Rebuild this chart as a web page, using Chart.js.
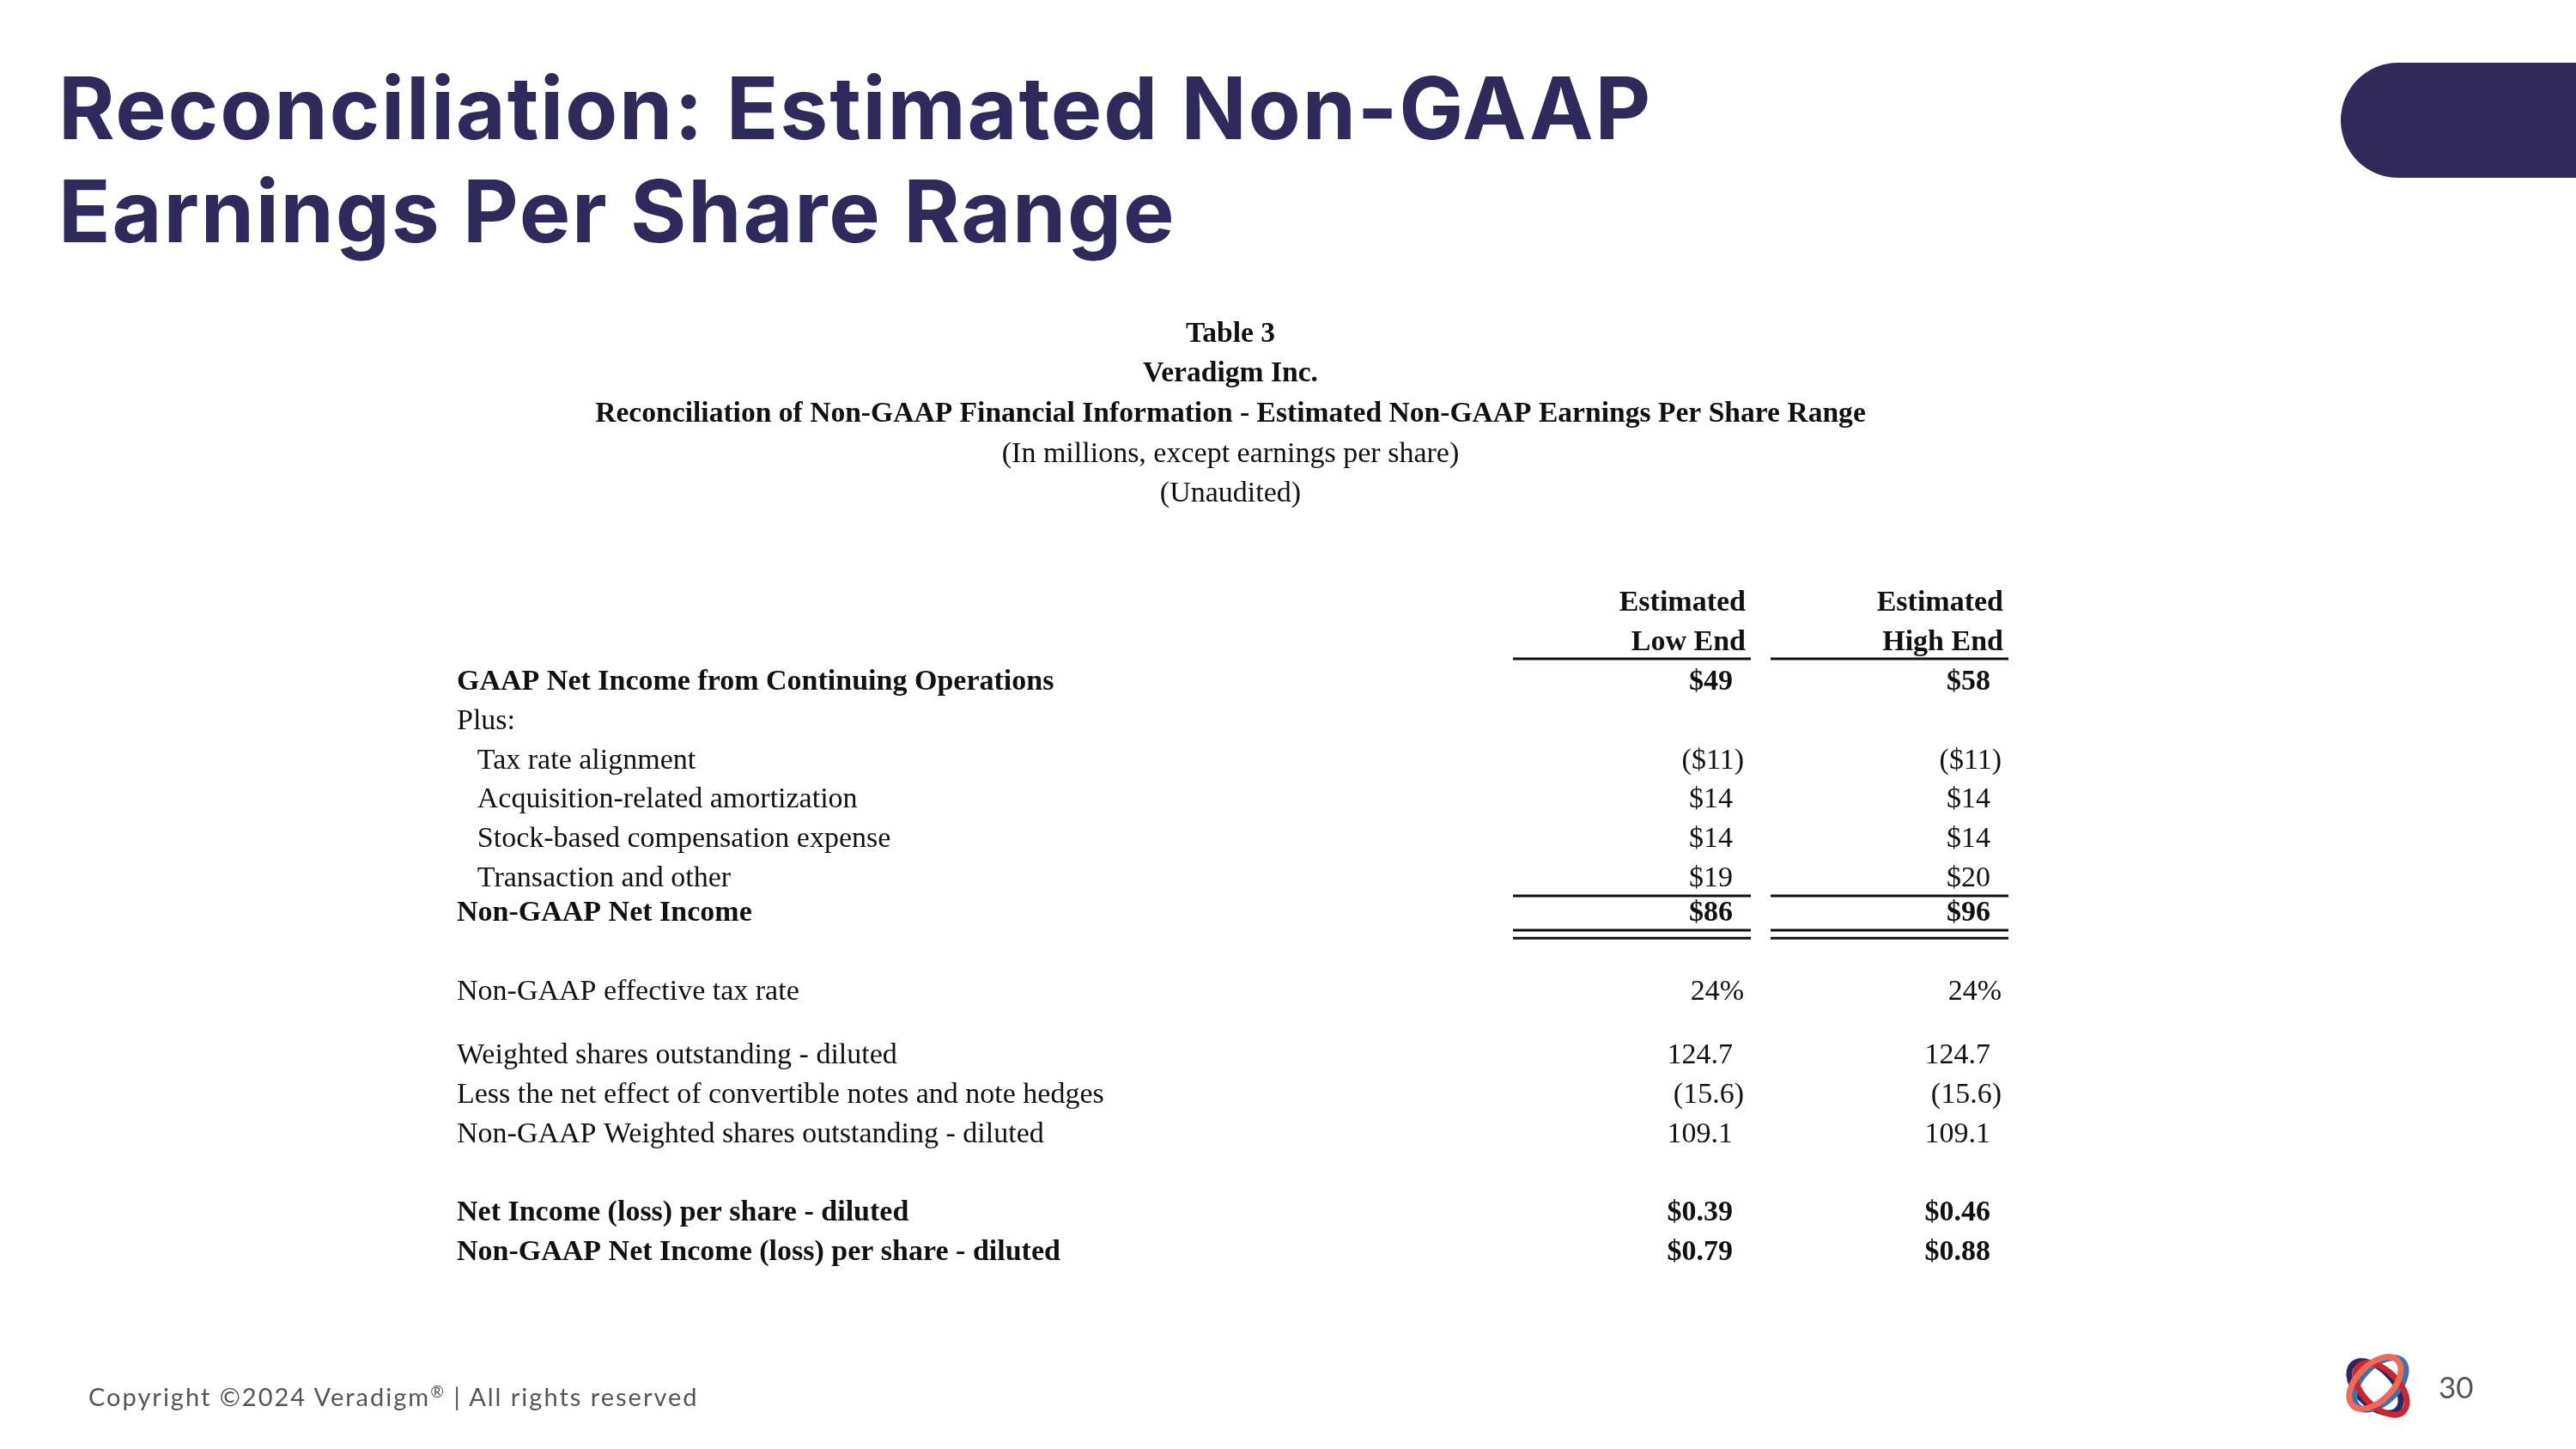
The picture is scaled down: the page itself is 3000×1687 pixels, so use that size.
<!DOCTYPE html>
<html>
<head>
<meta charset="utf-8">
<script src="https://cdn.jsdelivr.net/npm/chart.js@4/dist/chart.umd.min.js"></script>
<style>
    body { margin: 0; background: #fff; }
    .slide { position: relative; width: 3000px; height: 1687px; overflow: hidden; background: #fff; }
    .table-wrap { position: absolute; left: 0; top: 0; width: 3000px; height: 1687px; }
    .title {
        position: absolute; left: 68px; top: 66px; margin: 0;
        font-family: Inter, sans-serif; font-weight: 700; font-size: 100px;
        line-height: 120px; color: #2e2a5c; letter-spacing: 1.8px;
    }
    .pill {
        position: absolute; left: 2726px; top: 73px; width: 400px; height: 134px;
        border-radius: 67px; background: #312a5a;
    }
    .footer {
        position: absolute; left: 103px; top: 1608px;
        font-family: Lato, sans-serif; font-size: 29px; line-height: 36px;
        color: #555; letter-spacing: 2px;
    }
    .footer sup { font-size: 19px; vertical-align: 10px; line-height: 0; }
    .page-no {
        position: absolute; left: 2840px; top: 1594px;
        font-family: Lato, sans-serif; font-size: 35px; line-height: 40px; color: #555;
    }
    .logo { position: absolute; left: 2722px; top: 1568px; }
</style>
</head>
<body>
<div class="slide">
    <div class="table-wrap"><canvas id="reconTable"></canvas></div>
    <h1 class="title">Reconciliation: Estimated Non-GAAP<br>Earnings Per Share Range</h1>
    <div class="pill"></div>
    <div class="footer">Copyright ©2024 Veradigm<sup>®</sup> | All rights reserved</div>
    <div class="page-no">30</div>
    <svg class="logo" width="95" height="92" viewBox="0 0 95 92">
        <g fill="none" stroke-width="7">
            <ellipse cx="44" cy="47" rx="37" ry="21" transform="rotate(45 44 47)" stroke="#2d2566"/>
            <ellipse cx="50" cy="43" rx="37" ry="21" transform="rotate(-45 50 43)" stroke="#3f72aa"/>
            <ellipse cx="51" cy="49" rx="37" ry="21" transform="rotate(45 51 49)" stroke="#c9262f"/>
            <ellipse cx="44" cy="42" rx="37" ry="21" transform="rotate(-45 44 42)" stroke="#ee6a5b"/>
        </g>
    </svg>
</div>

<script>
// Table content
const tableTitle = ['Table 3', 'Veradigm Inc.', 'Reconciliation of Non-GAAP Financial Information - Estimated Non-GAAP Earnings Per Share Range'];
const tableSubtitle = ['(In millions, except earnings per share)', '(Unaudited)'];
const columnHead = 'Estimated';
const columns = ['Low End', 'High End'];

const rowLabels = [
    'GAAP Net Income from Continuing Operations',
    'Plus:',
    'Tax rate alignment',
    'Acquisition-related amortization',
    'Stock-based compensation expense',
    'Transaction and other',
    'Non-GAAP Net Income',
    'Non-GAAP effective tax rate',
    'Weighted shares outstanding - diluted',
    'Less the net effect of convertible notes and note hedges',
    'Non-GAAP Weighted shares outstanding - diluted',
    'Net Income (loss) per share - diluted',
    'Non-GAAP Net Income (loss) per share - diluted'
];
const lowEnd = ['$49', '', '($11)', '$14', '$14', '$19', '$86', '24%', '124.7', '(15.6)', '109.1', '$0.39', '$0.79'];
const highEnd = ['$58', '', '($11)', '$14', '$14', '$20', '$96', '24%', '124.7', '(15.6)', '109.1', '$0.46', '$0.88'];

// Layout: the y axis runs in eighth-row slots so the uneven gaps between blocks line up
const SLOT_COUNT = 133;
const HEAD_SLOT = [0, 8];
const ROW_SLOT = [16, 24, 32, 40, 48, 56, 63, 79, 92, 100, 108, 124, 132];
const RULE_SLOT = [11.3, 59.5, 66.5, 68.1];
const BOLD_ROWS = [0, 6, 11, 12];
const INDENT_ROWS = [2, 3, 4, 5];
const SERIF = "'Liberation Serif', 'Times New Roman', serif";
const FONT_SIZE = 34;
const INK = '#111';

const rowKey = rowLabels.map((label, i) => (INDENT_ROWS.includes(i) ? '  \u2009' : '') + label);
const slotLabels = Array.from({ length: SLOT_COUNT }, () => '');
const boldSlots = new Set();
rowKey.forEach((key, i) => {
    slotLabels[ROW_SLOT[i]] = key;
    if (BOLD_ROWS.includes(i)) boldSlots.add(ROW_SLOT[i]);
});

function cellFont(bold) {
    return `${bold ? 'bold ' : ''}${FONT_SIZE}px ${SERIF}`;
}

// Draws column heads, cell values and the accounting rules
const tableCells = {
    id: 'tableCells',
    afterDatasetsDraw(chart) {
        const { ctx, scales: { x, y } } = chart;
        ctx.save();
        ctx.fillStyle = INK;
        ctx.strokeStyle = INK;
        ctx.textBaseline = 'middle';
        ctx.textAlign = 'right';

        ctx.font = cellFont(true);
        columns.forEach((col, c) => {
            const cx = x.getPixelForValue(c);
            ctx.fillText(columnHead, cx + 15, y.getPixelForValue(HEAD_SLOT[0]));
            ctx.fillText(col, cx + 15, y.getPixelForValue(HEAD_SLOT[1]));
        });

        chart.data.datasets.forEach((ds, di) => {
            chart.getDatasetMeta(di).data.forEach((pt, i) => {
                const txt = ds.cells[i];
                if (!txt) return;
                ctx.font = cellFont(BOLD_ROWS.includes(i));
                const hang = /[)%]$/.test(txt) ? 13 : 0;
                ctx.fillText(txt, pt.x + hang, pt.y);
            });
        });

        // single rules under the heads and the add-backs, double rule under the total
        ctx.lineWidth = 3;
        RULE_SLOT.forEach(slot => {
            const yy = y.getPixelForValue(slot);
            columns.forEach((col, c) => {
                const cx = x.getPixelForValue(c);
                ctx.beginPath();
                ctx.moveTo(cx - 256, yy);
                ctx.lineTo(cx + 21, yy);
                ctx.stroke();
            });
        });
        ctx.restore();
    }
};

Chart.defaults.font.family = SERIF;

new Chart(document.getElementById('reconTable'), {
    type: 'line',
    data: {
        datasets: columns.map((col, c) => ({
            label: col,
            cells: c === 0 ? lowEnd : highEnd,
            data: rowKey.map(key => ({ x: col, y: key })),
            showLine: false,
            pointRadius: 0,
            pointHoverRadius: 0
        }))
    },
    options: {
        responsive: true,
        maintainAspectRatio: false,
        animation: false,
        events: [],
        layout: { padding: { top: 366, left: 532, right: 666, bottom: 226 } },
        plugins: {
            legend: { display: false },
            tooltip: { enabled: false },
            title: {
                display: true,
                text: tableTitle,
                color: INK,
                font: { family: SERIF, size: 33.6, weight: 'bold', lineHeight: 46.5 / 33.6 },
                padding: { top: 0, bottom: 0 }
            },
            subtitle: {
                display: true,
                text: tableSubtitle,
                color: INK,
                font: { family: SERIF, size: FONT_SIZE, weight: 'normal', lineHeight: 46.5 / FONT_SIZE },
                padding: { top: 0, bottom: 101 }
            }
        },
        scales: {
            x: { type: 'category', labels: columns, offset: false, display: false },
            y: {
                type: 'category',
                labels: slotLabels,
                offset: true,
                position: 'left',
                grid: { display: false },
                border: { display: false },
                ticks: {
                    autoSkip: false,
                    crossAlign: 'far',
                    color: INK,
                    font: ctx => ({ family: SERIF, size: FONT_SIZE, weight: boldSlots.has(ctx.index) ? 'bold' : 'normal' })
                },
                afterFit: scale => { scale.width = 1486; }
            },
            yEdge: {
                type: 'linear',
                axis: 'y',
                position: 'right',
                grid: { display: false },
                border: { display: false },
                ticks: { display: false },
                afterFit: scale => { scale.width = 16; }
            }
        }
    },
    plugins: [tableCells]
});
</script>
</body>
</html>
